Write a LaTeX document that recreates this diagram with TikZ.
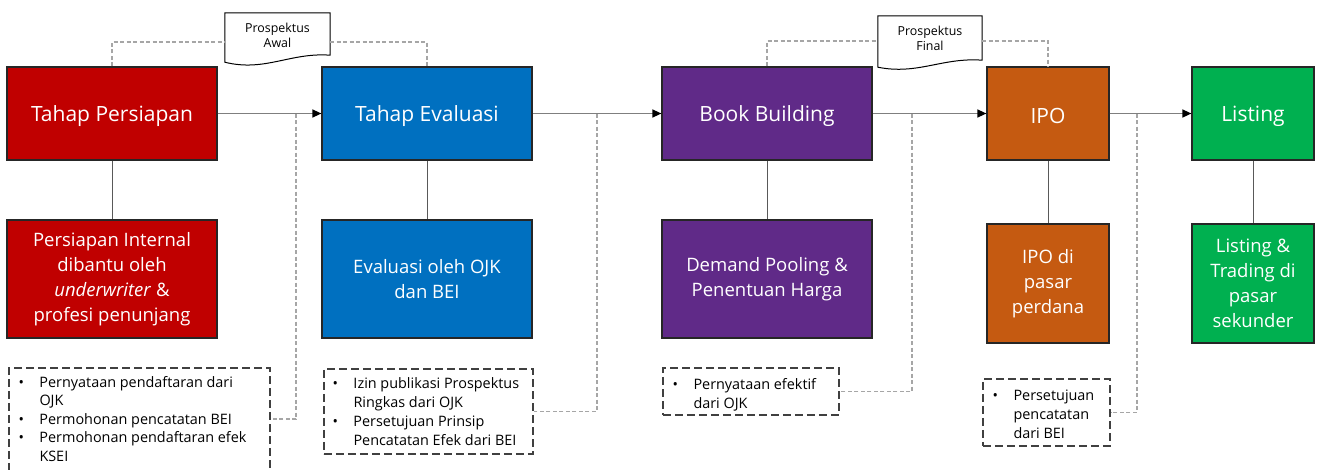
\documentclass[tikz,border=0pt]{standalone}
\usepackage{fontspec}
\setmainfont{Open Sans}
\usetikzlibrary{calc,arrows.meta,backgrounds}
\definecolor{cred}{HTML}{C00000}
\definecolor{cblue}{HTML}{0070C0}
\definecolor{cpurple}{HTML}{602A88}
\definecolor{corange}{HTML}{C55A11}
\definecolor{cgreen}{HTML}{00B050}
\definecolor{carrow}{HTML}{7F7F7F}
\definecolor{cdash}{HTML}{A6A6A6}
\definecolor{cbox}{HTML}{404040}
\newcommand\listfont{\fontsize{14.4}{18.5}\selectfont}
\newcommand\listfontb{\fontsize{14.4}{19.2}\selectfont}
\begin{document}
\begin{tikzpicture}[x=1pt,y=-1pt,
  stage/.style={draw=black!85, line width=1.2pt, inner sep=0pt, text=white, align=center,
    minimum width=210pt, minimum height=93pt, font=\fontsize{21}{25}\selectfont,
    execute at begin node={\rule{0pt}{20.5pt}}},
  detail/.style={draw=black!85, line width=1.2pt, inner sep=0pt, text=white, align=center,
    minimum width=210pt, minimum height=118pt, font=\fontsize{18.5}{25}\selectfont,
    execute at begin node={\rule{0pt}{22pt}}},
  narrow/.style={minimum width=122pt},
  notebox/.style={draw=cbox, line width=1.6pt, dash pattern=on 8pt off 4pt, inner sep=0pt, anchor=north west},
  notetext/.style={anchor=north west, inner sep=0pt, align=left, font=\listfont},
  flow/.style={draw=carrow, line width=1.4pt, -{Triangle[length=9pt,width=8pt,color=black]}},
  link/.style={draw=black!65, line width=1pt},
  dashcon/.style={draw=cdash, line width=1.2pt, dash pattern=on 4pt off 2.5pt},
  docnode/.style={inner sep=0pt, align=center, font=\fontsize{12.4}{15}\selectfont},
  docshape/.style={draw=black, fill=white, line width=1pt}
]
\useasboundingbox (0,0) rectangle (1317,469);

% top row
\node[stage, fill=cred]    (p1) at (112,113.5) {Tahap Persiapan};
\node[stage, fill=cblue]   (p2) at (427,113.5) {Tahap Evaluasi};
\node[stage, fill=cpurple] (p3) at (767,113.5) {Book Building};
\node[stage, narrow, fill=corange] (p4) at (1048,113.5) {IPO};
\node[stage, narrow, fill=cgreen]  (p5) at (1253,113.5) {Listing};

% bottom row
\node[detail, fill=cred]    (b1) at (112,279) {Persiapan Internal\\dibantu oleh\\\textit{underwriter} \&\\profesi penunjang};
\node[detail, fill=cblue]   (b2) at (427,279) {Evaluasi oleh OJK\\dan BEI};
\node[detail, fill=cpurple] (b3) at (767,279) {Demand Pooling \&\\Penentuan Harga};
\node[detail, narrow, minimum height=119pt, fill=corange] (b4) at (1048,283.5) {IPO di\\pasar\\perdana};
\node[detail, narrow, minimum height=119pt, fill=cgreen]  (b5) at (1253,283.5) {Listing \&\\Trading di\\pasar\\sekunder};

% note boxes
\node[notebox, minimum width=261pt, minimum height=115pt] (l1) at (8,367) {};
\node[notebox, minimum width=209pt, minimum height=85pt]  (l2) at (323,368) {};
\node[notebox, minimum width=176pt, minimum height=47pt]  (l3) at (662,367) {};
\node[notebox, minimum width=127pt, minimum height=67pt]  (l4) at (982,378) {};

\node[notetext] (t1) at ($(l1.north west)+(10.3,7)$) {\begin{tabular}{@{}p{21pt}@{}l@{}}
\textbullet & Pernyataan pendaftaran dari\\
 & OJK\\
\textbullet & Permohonan pencatatan BEI\\
\textbullet & Permohonan pendaftaran efek\\
 & KSEI
\end{tabular}};
\node[notetext, font=\listfontb] (t2) at ($(l2.north west)+(9.3,6.5)$) {\begin{tabular}{@{}p{21pt}@{}l@{}}
\textbullet & Izin publikasi Prospektus\\
 & Ringkas dari OJK\\
\textbullet & Persetujuan Prinsip\\
 & Pencatatan Efek dari BEI
\end{tabular}};
\node[notetext, font=\listfontb] (t3) at ($(l3.north west)+(10.3,8.5)$) {\begin{tabular}{@{}p{21pt}@{}l@{}}
\textbullet & Pernyataan efektif\\
 & dari OJK
\end{tabular}};
\node[notetext, font=\listfontb] (t4) at ($(l4.north west)+(10.3,8.5)$) {\begin{tabular}{@{}p{21pt}@{}l@{}}
\textbullet & Persetujuan\\
 & pencatatan\\
 & dari BEI
\end{tabular}};

% document shapes
\node[docnode, minimum width=105pt, minimum height=44pt] (d1) at (277.5,35) {Prospektus\\Awal};
\node[docnode, minimum width=104pt, minimum height=44pt] (d2) at (930,38) {Prospektus\\Final};
\begin{scope}[on background layer]
\filldraw[docshape] (d1.north west) -- (d1.north east) -- ($(d1.south east)+(0,-2)$)
  .. controls ($(d1.south east)+(-40,-5)$) and ($(d1.south west)+(40,15)$) .. ($(d1.south west)+(0,5)$) -- cycle;
\filldraw[docshape] (d2.north west) -- (d2.north east) -- (d2.south east)
  .. controls ($(d2.south east)+(-40,-3)$) and ($(d2.south west)+(40,15)$) .. ($(d2.south west)+(0,7)$) -- cycle;
\end{scope}

% junction points on the flow lines
\coordinate (j1) at (296,113.5);
\coordinate (j2) at (597,113.5);
\coordinate (j3) at (912,113.5);
\coordinate (j4) at (1137,113.5);

% dashed connectors
\draw[dashcon] (j1) |- ($(l1.north east)+(0,52)$);
\draw[dashcon] (j2) |- (l2.east);
\draw[dashcon] (j3) |- (l3.east);
\draw[dashcon] (j4) |- (l4.east);
\draw[dashcon] (p1.north) |- ($(d1.west)+(0,7)$);
\draw[dashcon] ($(d1.east)+(0,7)$) -| (p2.north);
\draw[dashcon] (p3.north) |- ($(d2.west)+(0,3)$);
\draw[dashcon] ($(d2.east)+(0,3)$) -| (p4.north);

% flow arrows
\draw[flow] (p1.east) -- (p2.west);
\draw[flow] (p2.east) -- (p3.west);
\draw[flow] (p3.east) -- (p4.west);
\draw[flow] (p4.east) -- (p5.west);

% vertical links
\draw[link] (p1.south) -- (b1.north);
\draw[link] (p2.south) -- (b2.north);
\draw[link] (p3.south) -- (b3.north);
\draw[link] (p4.south) -- (b4.north);
\draw[link] (p5.south) -- (b5.north);
\end{tikzpicture}
\end{document}
